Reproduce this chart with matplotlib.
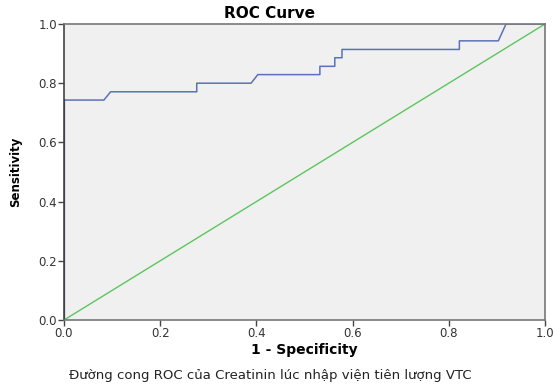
import matplotlib.pyplot as plt

# ROC curve (1 - specificity, sensitivity)
fpr = [0.0, 0.0, 0.083, 0.097, 0.276, 0.276, 0.389, 0.403, 0.532, 0.532,
       0.563, 0.563, 0.578, 0.578, 0.822, 0.822, 0.903, 0.919, 1.0]
tpr = [0.0, 0.743, 0.743, 0.771, 0.771, 0.800, 0.800, 0.829, 0.829, 0.857,
       0.857, 0.886, 0.886, 0.914, 0.914, 0.943, 0.943, 1.0, 1.0]
ref_line = [0.0, 1.0]
ticks = [0.0, 0.2, 0.4, 0.6, 0.8, 1.0]

fig = plt.figure(figsize=(5.53, 3.85), dpi=100)
ax = fig.add_axes([0.1157, 0.1688, 0.8698, 0.7689])
ax.set_facecolor('#f0f0f0')

ax.plot(ref_line, ref_line, color='#5cc65c', lw=1.0)
ax.plot(fpr, tpr, color='#5a72b8', lw=1.1)
ax.plot([0, 0], [0, tpr[1]], color='#2c3a6e', lw=1.6)

ax.set_xlim(0, 1)
ax.set_ylim(0, 1)
ax.set_xticks(ticks)
ax.set_yticks(ticks)
ax.set_xticklabels([f'{t:.1f}' for t in ticks])
ax.set_yticklabels([f'{t:.1f}' for t in ticks])
ax.tick_params(labelsize=8.5, length=4, color='#444444', labelcolor='#333333',
               width=1, pad=1)
for s in ax.spines.values():
    s.set_color('#777777')
    s.set_linewidth(1.2)
ax.spines['left'].set_color('#444444')

fig.text(270 / 553, 1 - 13 / 385, 'ROC Curve', ha='center', va='center',
         fontsize=11, fontweight='bold')
ax.set_xlabel('1 - Specificity', fontsize=10, fontweight='bold', labelpad=2)
ax.set_ylabel('Sensitivity', fontsize=8.5, fontweight='bold', labelpad=12)

fig.text(270 / 553, 1 - 376 / 385,
         'Đường cong ROC của Creatinin lúc nhập viện tiên lượng VTC',
         ha='center', va='center', fontsize=9.5, color='#222222')

fig.savefig('out.png', dpi=100)
